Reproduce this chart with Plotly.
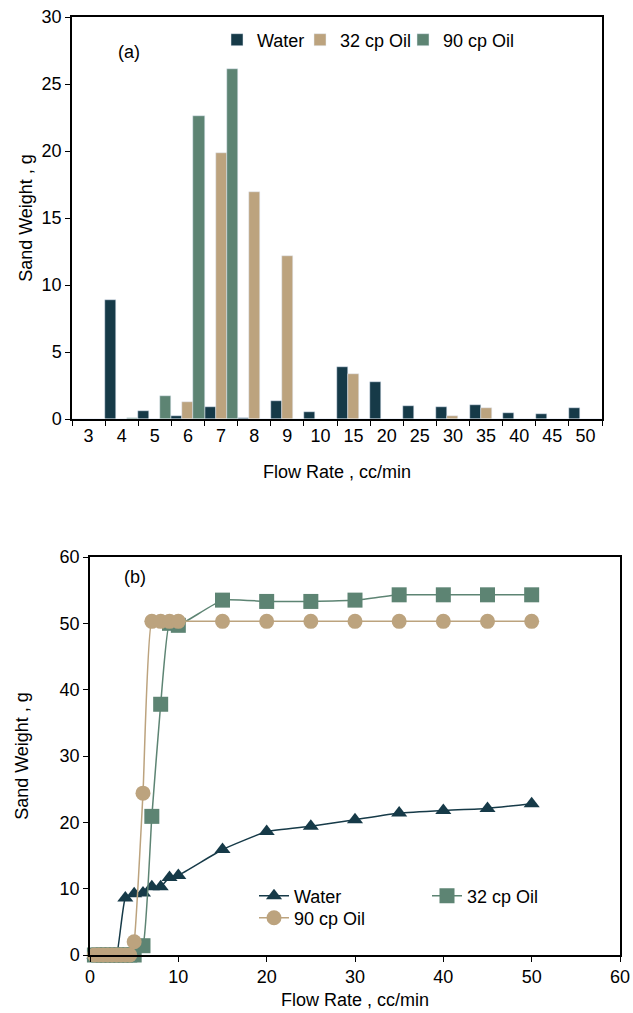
import plotly.graph_objects as go

W, H = 633, 1013

# ---------- (a) bar chart data ----------
categories = ["3", "4", "5", "6", "7", "8", "9", "10", "15", "20", "25", "30", "35", "40", "45", "50"]
water_bar = [0, 8.9, 0.58, 0.25, 0.88, 0.1, 1.35, 0.53, 3.88, 2.75, 0.95, 0.9, 1.03, 0.43, 0.38, 0.83]
oil32_bar = [0, 0, 0, 1.28, 19.88, 16.95, 12.15, 0, 3.38, 0, 0, 0.23, 0.85, 0, 0, 0]
oil90_bar = [0, 0.1, 1.73, 22.6, 26.1, 0, 0, 0, 0, 0, 0, 0, 0, 0, 0, 0]

# ---------- (b) cumulative data ----------
water_x = [0.5, 1, 1.5, 2, 2.5, 3, 4, 5, 6, 7, 8, 9, 10, 15, 20, 25, 30, 35, 40, 45, 50]
water_y = [0, 0, 0, 0, 0, 0, 8.6, 9.25, 9.35, 10.3, 10.3, 11.7, 12.0, 15.9, 18.6, 19.4, 20.4, 21.4, 21.8, 22.1, 22.8]

oil32_x = [0.5, 1, 1.5, 2, 2.5, 3, 3.5, 4, 4.5, 5, 6, 7, 8, 9, 10, 15, 20, 25, 30, 35, 40, 45, 50]
oil32_y = [0, 0, 0, 0, 0, 0, 0, 0, 0, 0, 1.4, 20.9, 37.8, 50.0, 49.7, 53.5, 53.3, 53.3, 53.5, 54.3, 54.3, 54.3, 54.3]

oil90_x = [0.5, 1, 1.5, 2, 2.5, 3, 3.5, 4, 4.5, 5, 6, 7, 8, 9, 10, 15, 20, 25, 30, 35, 40, 45, 50]
oil90_y = [0, 0, 0, 0, 0, 0, 0, 0, 0, 2.0, 24.4, 50.3, 50.3, 50.3, 50.3, 50.3, 50.3, 50.3, 50.3, 50.3, 50.3, 50.3, 50.3]

C_WATER = "#163a48"
C_TAN = "#bca37e"
C_GREEN = "#5d8473"
FONT = "Liberation Sans, Arial, sans-serif"
FS_TICK = 18
FS_TITLE = 18
FS_LEG = 18


def px_x(p):
    return p / W


def px_y(p):
    return 1 - p / H


fig = go.Figure()

fig.add_trace(go.Bar(x=categories, y=water_bar, name="Water", marker_color=C_WATER,
                     xaxis="x", yaxis="y", legend="legend", showlegend=True))
fig.add_trace(go.Bar(x=categories, y=oil32_bar, name="32 cp Oil", marker_color=C_TAN,
                     xaxis="x", yaxis="y", legend="legend2", showlegend=True))
fig.add_trace(go.Bar(x=categories, y=oil90_bar, name="90 cp Oil", marker_color=C_GREEN,
                     xaxis="x", yaxis="y", legend="legend3", showlegend=True))

fig.add_trace(go.Scatter(x=water_x, y=water_y, name="Water", mode="lines+markers",
                         line=dict(color=C_WATER, width=1.5, shape="spline", smoothing=0.4),
                         marker=dict(symbol="triangle-up", size=14, color=C_WATER),
                         cliponaxis=False, xaxis="x2", yaxis="y2", legend="legend4", showlegend=True))
fig.add_trace(go.Scatter(x=oil32_x, y=oil32_y, name="32 cp Oil", mode="lines+markers",
                         line=dict(color=C_GREEN, width=1.5, shape="spline", smoothing=0.4),
                         marker=dict(symbol="square", size=15, color=C_GREEN),
                         cliponaxis=False, xaxis="x2", yaxis="y2", legend="legend5", showlegend=True))
fig.add_trace(go.Scatter(x=oil90_x, y=oil90_y, name="90 cp Oil", mode="lines+markers",
                         line=dict(color=C_TAN, width=1.5, shape="spline", smoothing=0.4),
                         marker=dict(symbol="circle", size=15, color=C_TAN),
                         cliponaxis=False, xaxis="x2", yaxis="y2", legend="legend6", showlegend=True))

axis_common = dict(showline=True, linecolor="black", linewidth=1.5, mirror=True,
                   ticks="outside", ticklen=5, tickcolor="black", tickwidth=1.2,
                   showgrid=False, zeroline=False, automargin=False,
                   tickfont=dict(size=FS_TICK, color="black", family=FONT))


def leg(x, y):
    return dict(orientation="h", x=px_x(x), y=px_y(y), xanchor="left", yanchor="middle",
                xref="paper", yref="paper", font=dict(size=FS_LEG, color="black", family=FONT),
                bgcolor="rgba(0,0,0,0)", borderwidth=0, itemwidth=30, visible=True)


fig.update_layout(
    width=W, height=H,
    showlegend=True,
    margin=dict(l=0, r=0, t=0, b=0, pad=0),
    paper_bgcolor="white", plot_bgcolor="white",
    font=dict(family=FONT, color="black"),
    barmode="group", bargap=0, bargroupgap=0,
    xaxis=dict(domain=[px_x(72), px_x(602)], anchor="y", type="category", tickson="boundaries",
               title=dict(text="Flow Rate , cc/min", font=dict(size=FS_TITLE), standoff=20),
               **axis_common),
    yaxis=dict(domain=[px_y(419), px_y(17)], anchor="x", range=[0, 30], dtick=5,
               title=dict(text="Sand Weight , g", font=dict(size=FS_TITLE), standoff=4),
               **axis_common),
    xaxis2=dict(domain=[px_x(90), px_x(620)], anchor="y2", range=[0, 60], dtick=10,
                title=dict(text="Flow Rate , cc/min", font=dict(size=FS_TITLE), standoff=7),
                **axis_common),
    yaxis2=dict(domain=[px_y(955), px_y(557)], anchor="x2", range=[0, 60], dtick=10,
                title=dict(text="Sand Weight , g", font=dict(size=FS_TITLE), standoff=26),
                **axis_common),
    legend=leg(217, 40),
    legend2=leg(300, 40),
    legend3=leg(403, 40),
    legend4=leg(254, 896),
    legend5=leg(427, 896),
    legend6=leg(254, 918),
    annotations=[
        dict(text="(a)", x=px_x(129), y=px_y(52), xref="paper", yref="paper",
             xanchor="center", yanchor="middle", showarrow=False, font=dict(size=18)),
        dict(text="(b)", x=px_x(135), y=px_y(577), xref="paper", yref="paper",
             xanchor="center", yanchor="middle", showarrow=False, font=dict(size=18)),
    ],
)

fig.write_html("out.html")
